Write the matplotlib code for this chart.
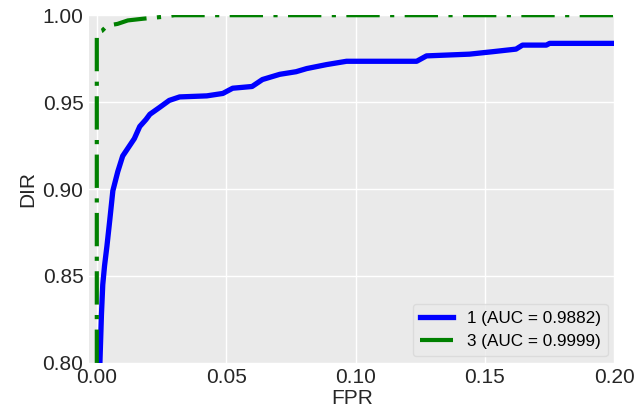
import matplotlib
matplotlib.use("Agg")
import matplotlib.pyplot as plt

fpr1 = [0.0012, 0.0018, 0.0023, 0.0030, 0.0039, 0.0050, 0.0062, 0.0081, 0.0100, 0.0127,
        0.0145, 0.0166, 0.0190, 0.0205, 0.0243, 0.0280, 0.0320, 0.0425, 0.0487, 0.0525,
        0.0600, 0.0640, 0.0707, 0.0770, 0.0811, 0.0888, 0.0965, 0.1236, 0.1274, 0.1440,
        0.1529, 0.1620, 0.1645, 0.1737, 0.1750, 0.2000]
tpr1 = [0.800, 0.828, 0.845, 0.856, 0.867, 0.882, 0.899, 0.910, 0.919, 0.925,
        0.929, 0.936, 0.940, 0.943, 0.947, 0.951, 0.953, 0.9536, 0.955, 0.958,
        0.959, 0.963, 0.966, 0.9675, 0.9693, 0.9716, 0.9735, 0.9735, 0.9766, 0.9776,
        0.979, 0.9805, 0.9828, 0.9828, 0.9838, 0.9838]
fpr3 = [0.0000, 0.0000, 0.0020, 0.0040, 0.0080, 0.0120, 0.0180, 0.0250, 0.0300, 0.2000]
tpr3 = [0.800, 0.990, 0.991, 0.994, 0.995, 0.997, 0.998, 0.999, 1.000, 1.000]
labels = ["1 (AUC = 0.9882)", "3 (AUC = 0.9999)"]

plt.rcParams['font.family'] = ['Liberation Sans', 'DejaVu Sans']
fig = plt.figure(figsize=(6.36, 4.11), dpi=100)
ax = fig.add_axes([0.14, 0.117, 0.826, 0.846])
ax.set_facecolor('#EAEAEA')
for s in ax.spines.values():
    s.set_visible(False)
ax.grid(True, color='white', linewidth=1.0)
ax.set_axisbelow(True)
ax.plot(fpr1, tpr1, color='blue', linewidth=3.8, label=labels[0])
ax.plot(fpr3, tpr3, color='green', linewidth=3.0, linestyle=(0, (8, 2.5, 1, 2.5)),
        label=labels[1])
ax.set_xlim(-0.003, 0.2)
ax.set_ylim(0.8, 1.0)
ax.set_xticks([0.0, 0.05, 0.10, 0.15, 0.20])
ax.set_xticklabels(["0.00", "0.05", "0.10", "0.15", "0.20"])
ax.set_yticks([0.80, 0.85, 0.90, 0.95, 1.00])
ax.set_yticklabels(["0.80", "0.85", "0.90", "0.95", "1.00"])
ax.tick_params(length=0, labelsize=15, colors='#262626', pad=4)
ax.set_xlabel("FPR", fontsize=15, color='#262626', labelpad=1)
ax.set_ylabel("DIR", fontsize=15, color='#262626', labelpad=4)
leg = ax.legend(loc='lower right', fontsize=12.3, frameon=True, facecolor='#EAEAEA',
                edgecolor='#D8D8D8', handlelength=1.95, borderaxespad=0.4)
gl = leg.get_lines()[1]
gl.set_linestyle('-')
gl.set_solid_capstyle('butt')
fig.savefig("out.png", dpi=100)
